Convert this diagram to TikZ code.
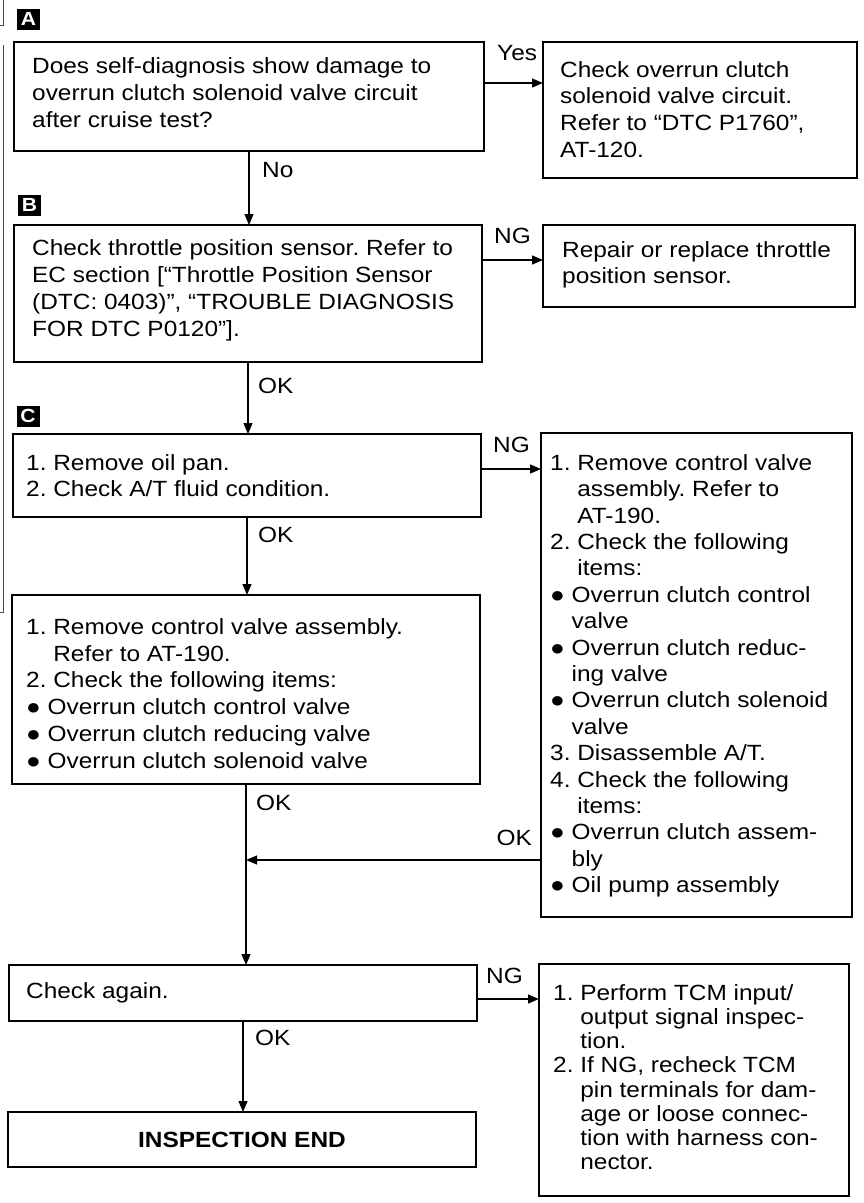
\documentclass[tikz,border=0pt]{standalone}
\usepackage{fontspec}
\setmainfont{Liberation Sans}[FakeStretch=1.11]
\usetikzlibrary{arrows.meta,calc}
\begin{document}
\frenchspacing
\begin{tikzpicture}[x=1pt,y=-1pt,
  box/.style={draw, line width=1.6pt, inner sep=0pt, outer sep=0pt, rectangle},
  txt/.style={anchor=north west, inner sep=0pt, align=left, font=\fontsize{22}{27}\selectfont\frenchspacing},
  lbl/.style={anchor=base west, inner sep=0pt, font=\fontsize{22}{24}\selectfont},
  tag/.style={fill=black, text=white, inner sep=0pt, minimum width=23pt, minimum height=21pt, font=\fontsize{19}{19}\selectfont\bfseries},
  arr/.style={line width=1.2pt, -{Triangle[length=11pt,width=9pt]}},
  edgeline/.style={line width=0.9pt, black!70}
]
\useasboundingbox (0,0) rectangle (863,1203);

% page-edge marks
\draw[edgeline] (3,0) -- (3,25) -- (0,25);
\draw[edgeline] (3,45) -- (3,612) -- (0,612);

% tags
\node[tag] (la) at (28.5,19) {A};
\node[tag] (lb) at (29.5,205) {B};
\node[tag] (lc) at (28,416) {C};

% boxes
\node[box, minimum width=470pt, minimum height=109pt] (q1) at (249,96.5) {};
\node[box, minimum width=314pt, minimum height=136pt] (ybox) at (700,110) {};
\node[box, minimum width=468pt, minimum height=137pt] (b2) at (248,293.5) {};
\node[box, minimum width=312pt, minimum height=82pt] (nbox) at (699,266) {};
\node[box, minimum width=468pt, minimum height=83pt] (b3) at (247,475.5) {};
\node[box, minimum width=311pt, minimum height=484pt] (cbox) at (696.5,675) {};
\node[box, minimum width=468pt, minimum height=189pt] (b4) at (246,689.5) {};
\node[box, minimum width=468pt, minimum height=56pt] (b5) at (243,993) {};
\node[box, minimum width=468pt, minimum height=55pt, font=\fontsize{22}{24}\selectfont\bfseries] (fin) at (242,1139.5) {INSPECTION END};
\node[box, minimum width=310pt, minimum height=232pt] (tbox) at (694,1080) {};

% box texts (node top = first baseline - 17)
\node[txt] (q1t) at (32,56) {\rule{0pt}{17pt}Does self-diagnosis show damage to\\overrun clutch solenoid valve circuit\\after cruise test?};
\node[txt, font=\fontsize{22}{26.7}\selectfont\frenchspacing] (yt) at (560,60) {\rule{0pt}{17pt}Check overrun clutch\\solenoid valve circuit.\\Refer to “DTC P1760”,\\AT-120.};
\node[txt] (b2t) at (32,238) {\rule{0pt}{17pt}Check throttle position sensor. Refer to\\EC section [“Throttle Position Sensor\\(DTC: 0403)”, “TROUBLE DIAGNOSIS\\FOR DTC P0120”].};
\node[txt, font=\fontsize{22}{26}\selectfont\frenchspacing] (nt) at (562,240) {\rule{0pt}{17pt}Repair or replace throttle\\position sensor.};
\node[txt, font=\fontsize{22}{26}\selectfont\frenchspacing] (b3t) at (26,453) {\rule{0pt}{17pt}1. Remove oil pan.\\2. Check A/T fluid condition.};
\node[txt, font=\fontsize{22}{26.4}\selectfont\frenchspacing] (ct) at (550,453) {\rule{0pt}{17pt}1. Remove control valve\\\phantom{1. }assembly. Refer to\\\phantom{1. }AT-190.\\2. Check the following\\\phantom{2. }items:\\● Overrun clutch control\\\phantom{● }valve\\● Overrun clutch reduc-\\\phantom{● }ing valve\\● Overrun clutch solenoid\\\phantom{● }valve\\3. Disassemble A/T.\\4. Check the following\\\phantom{4. }items:\\● Overrun clutch assem-\\\phantom{● }bly\\● Oil pump assembly};
\node[txt, font=\fontsize{22}{26.8}\selectfont\frenchspacing] (b4t) at (26,617) {\rule{0pt}{17pt}1. Remove control valve assembly.\\\phantom{1. }Refer to AT-190.\\2. Check the following items:\\● Overrun clutch control valve\\● Overrun clutch reducing valve\\● Overrun clutch solenoid valve};
\node[txt] (b5t) at (26,981) {\rule{0pt}{17pt}Check again.};
\node[txt, font=\fontsize{22}{24.2}\selectfont\frenchspacing] (tt) at (553,983) {\rule{0pt}{17pt}1. Perform TCM input/\\\phantom{1. }output signal inspec-\\\phantom{1. }tion.\\2. If NG, recheck TCM\\\phantom{2. }pin terminals for dam-\\\phantom{2. }age or loose connec-\\\phantom{2. }tion with harness con-\\\phantom{2. }nector.};

% connector labels
\node[lbl] (lyes) at (497,60) {Yes};
\node[lbl] (lno) at (262,177) {No};
\node[lbl] (lng1) at (494,243) {NG};
\node[lbl] (lok1) at (258,393) {OK};
\node[lbl] (lng2) at (493,452) {NG};
\node[lbl] (lok2) at (258,542) {OK};
\node[lbl] (lok3) at (256,810) {OK};
\node[lbl, anchor=base east] (lok4) at (532,845) {OK};
\node[lbl] (lng3) at (486,983) {NG};
\node[lbl] (lok5) at (255,1045) {OK};

% connectors
\draw[arr] ([yshift=13.5pt]q1.east) -- ([yshift=13.5pt]q1.east -| ybox.west);
\draw[arr] (q1.south) -- (q1.south |- b2.north);
\draw[arr] ([yshift=33.5pt]b2.east) -- ([yshift=33.5pt]b2.east -| nbox.west);
\draw[arr] (b2.south) -- (b2.south |- b3.north);
\draw[arr] ([yshift=6.5pt]b3.east) -- ([yshift=6.5pt]b3.east -| cbox.west);
\draw[arr] (b3.south) -- (b3.south |- b4.north);
\coordinate (jn) at ($(b4.south)+(0,76)$);
\draw[arr] (b4.south) -- (b4.south |- b5.north);
\draw[arr] (cbox.west |- jn) -- (jn);
\draw[arr] ([yshift=-6pt]b5.east) -- ([yshift=-6pt]b5.east -| tbox.west);
\draw[arr] (b5.south) -- (b5.south |- fin.north);
\end{tikzpicture}
\end{document}
